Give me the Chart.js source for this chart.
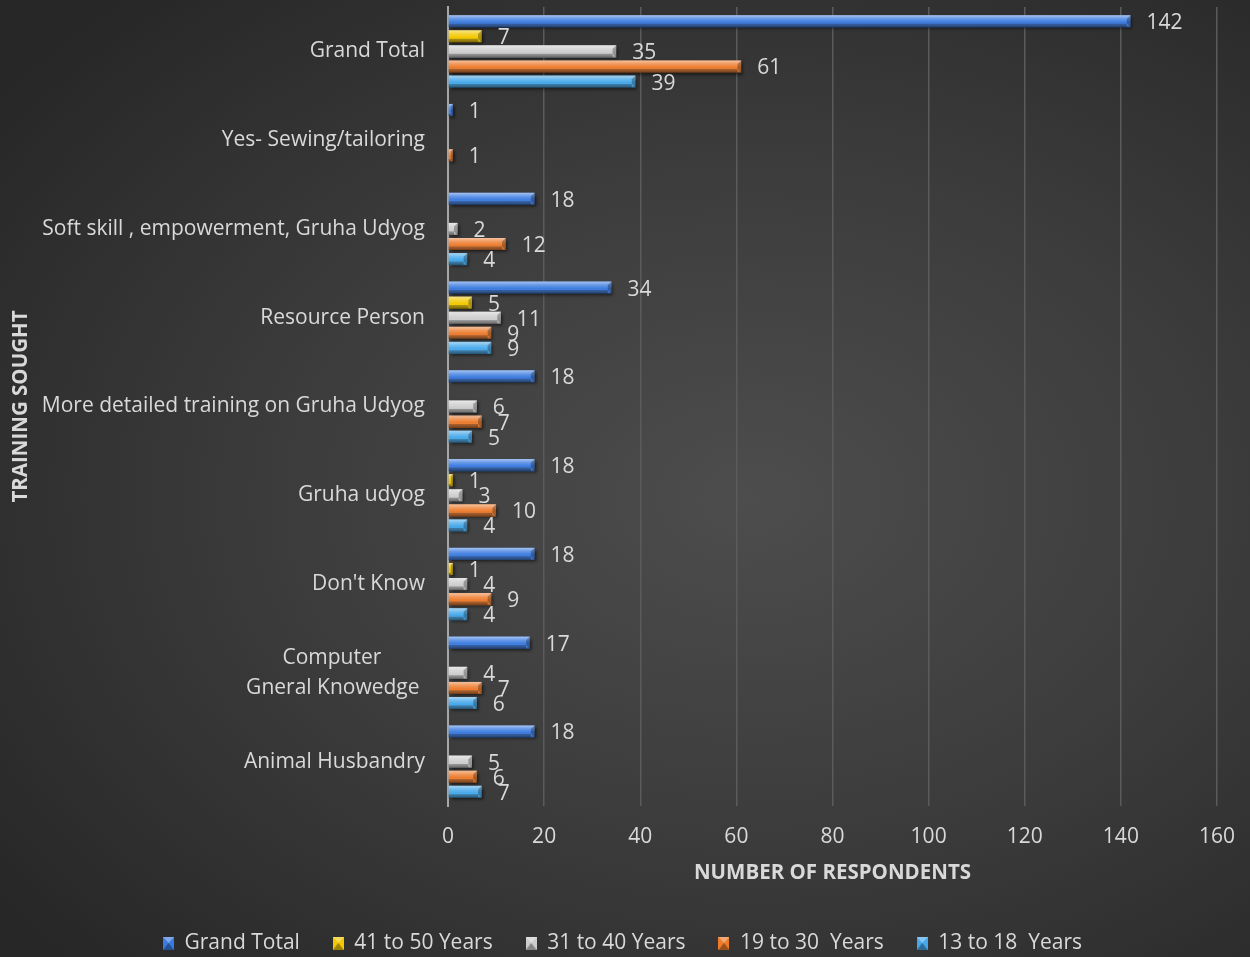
<!DOCTYPE html>
<html>
<head>
<meta charset="utf-8">
<title>Training Sought</title>
<script src="https://cdn.jsdelivr.net/npm/chart.js@4.4.0/dist/chart.umd.min.js"></script>
<style>
  html, body { margin: 0; padding: 0; }
  body {
    width: 1250px; height: 957px; overflow: hidden;
    background: radial-gradient(ellipse 75% 70% at 60% 52%, #4d4d4d 0%, #3c3c3c 50%, #272727 100%);
  }
  #wrap { width: 1250px; height: 957px; }
</style>
</head>
<body>
<div id="wrap"><canvas id="trainingChart" width="1250" height="957"></canvas></div>
<script>
// categories, top to bottom
const categories = [
  'Grand Total',
  'Yes- Sewing/tailoring',
  'Soft skill , empowerment, Gruha Udyog',
  'Resource Person',
  'More detailed training on Gruha Udyog',
  'Gruha udyog',
  "Don't Know",
  ['Computer        ', 'Gneral Knowedge '],
  'Animal Husbandry'
];

const grandTotal = [142, 1, 18, 34, 18, 18, 18, 17, 18];
const age41to50  = [7, null, null, 5, null, 1, 1, null, null];
const age31to40  = [35, null, 2, 11, 6, 3, 4, 4, 5];
const age19to30  = [61, 1, 12, 9, 7, 10, 9, 7, 6];
const age13to18  = [39, null, 4, 9, 5, 4, 4, 6, 7];

const seriesNames  = ['Grand Total', '41 to 50 Years', '31 to 40 Years', '19 to 30  Years', '13 to 18  Years'];
const seriesColors = ['#3b7be0', '#f2c800', '#cdcdcd', '#ec7b2c', '#45a8ea'];

const xMin = 0, xMax = 160, xStep = 20;

const FONT = "'Open Sans', 'DejaVu Sans', sans-serif";
const TEXT = '#d9d9d9';

// small bevelled square used as legend marker
function markerFor(color) {
  const c = document.createElement('canvas');
  c.width = 11; c.height = 13;
  const g = c.getContext('2d');
  g.fillStyle = color;
  g.fillRect(0, 0, 11, 13);
  g.fillStyle = 'rgba(0,0,0,0.35)';
  g.beginPath(); g.moveTo(0, 13); g.lineTo(11, 13); g.lineTo(5.5, 6); g.closePath(); g.fill();
  g.fillStyle = 'rgba(255,255,255,0.35)';
  g.beginPath(); g.moveTo(0, 0); g.lineTo(11, 0); g.lineTo(5.5, 6); g.closePath(); g.fill();
  return c;
}

// drop shadow under the bars, then a bevel overlay and value labels on top
const barBevel = {
  id: 'barBevel',
  beforeLayout(chart) {
    const legend = chart.legend;
    if (legend && !legend._fixedFit) {
      const fit = legend.fit;
      legend.fit = function () { fit.call(this); this.height = 57; };
      legend._fixedFit = true;
    }
  },
  afterLayout(chart) {
    // the legend row counts trailing padding; nudge it back to the middle
    chart.legend.left += 14;
    chart.legend.right += 14;
  },
  beforeDatasetsDraw(chart) {
    const ctx = chart.ctx;
    ctx.save();
    ctx.shadowColor = 'rgba(0,0,0,0.55)';
    ctx.shadowBlur = 3;
    ctx.shadowOffsetX = 2;
    ctx.shadowOffsetY = 2;
  },
  afterDatasetsDraw(chart) {
    const ctx = chart.ctx;
    ctx.restore();
    chart.data.datasets.forEach((ds, i) => {
      const meta = chart.getDatasetMeta(i);
      meta.data.forEach((bar, j) => {
        const v = ds.data[j];
        if (v == null) return;
        const {x, y, base, height} = bar.getProps(['x', 'y', 'base', 'height'], true);
        const top = y - height / 2;
        const w = x - base;
        ctx.save();
        const g = ctx.createLinearGradient(0, top, 0, top + height);
        g.addColorStop(0, 'rgba(255,255,255,0.55)');
        g.addColorStop(0.3, 'rgba(255,255,255,0.22)');
        g.addColorStop(0.6, 'rgba(255,255,255,0)');
        g.addColorStop(1, 'rgba(0,0,0,0.35)');
        ctx.fillStyle = g;
        ctx.fillRect(base, top, w, height);
        // darker rim along the bottom and the chamfered end
        const b = Math.min(height * 0.3, w / 2);
        ctx.fillStyle = 'rgba(0,0,0,0.28)';
        ctx.fillRect(base, top + height - b, w - b, b);
        ctx.beginPath();
        ctx.moveTo(x - b, top + b);
        ctx.lineTo(x, top);
        ctx.lineTo(x, top + height);
        ctx.lineTo(x - b, top + height - b);
        ctx.closePath();
        ctx.fill();
        ctx.restore();

        ctx.save();
        ctx.font = '21px ' + FONT;
        ctx.fillStyle = TEXT;
        ctx.textAlign = 'left';
        ctx.textBaseline = 'middle';
        ctx.fillText(String(v), x + 16, y + 2);
        ctx.restore();
      });
    });
  }
};

const barStyle = { barPercentage: 0.8, categoryPercentage: 0.85, borderWidth: 0 };
const seriesData = [grandTotal, age41to50, age31to40, age19to30, age13to18];

new Chart(document.getElementById('trainingChart'), {
  type: 'bar',
  data: {
    labels: categories,
    datasets: seriesData.map((d, i) => ({
      label: seriesNames[i], data: d, backgroundColor: seriesColors[i], ...barStyle
    }))
  },
  options: {
    indexAxis: 'y',
    responsive: false,
    animation: false,
    layout: { padding: { top: 7, right: 33, bottom: 0, left: 0 } },
    scales: {
      x: {
        min: xMin,
        max: xMax,
        ticks: { stepSize: xStep, color: TEXT, font: { family: FONT, size: 21 }, padding: 18 },
        grid: { color: '#5b5b5b', lineWidth: 1.5, drawTicks: false },
        border: { display: false },
        title: {
          display: true,
          text: 'NUMBER OF RESPONDENTS',
          color: TEXT,
          font: { family: FONT, size: 20.5, weight: 'bold' },
          padding: { top: 0, bottom: 15 }
        },
        afterFit(scale) {
          scale.height = 94;
          scale.paddingLeft = 0;
          scale.paddingRight = 0;
        }
      },
      y: {
        ticks: { color: TEXT, font: { family: FONT, size: 21, lineHeight: 1.4 }, padding: 23 },
        grid: { display: false, drawTicks: false },
        border: { display: true, color: '#a6a6a6', width: 2 },
        title: {
          display: true,
          text: 'TRAINING SOUGHT',
          color: TEXT,
          font: { family: FONT, size: 20.5, weight: 'bold' },
          padding: { top: 9, bottom: 0 }
        },
        afterFit(scale) {
          scale.width = 448;
          scale.paddingTop = 0;
          scale.paddingBottom = 0;
        }
      }
    },
    plugins: {
      legend: {
        position: 'bottom',
        labels: {
          color: TEXT,
          font: { family: FONT, size: 21 },
          usePointStyle: true,
          boxWidth: 11,
          boxHeight: 11,
          padding: 33,
          generateLabels(chart) {
            const items = Chart.defaults.plugins.legend.labels.generateLabels(chart);
            items.forEach((it, i) => { it.pointStyle = markerFor(seriesColors[i]); });
            return items;
          }
        }
      },
      tooltip: { enabled: false }
    }
  },
  plugins: [barBevel]
});
</script>
</body>
</html>
